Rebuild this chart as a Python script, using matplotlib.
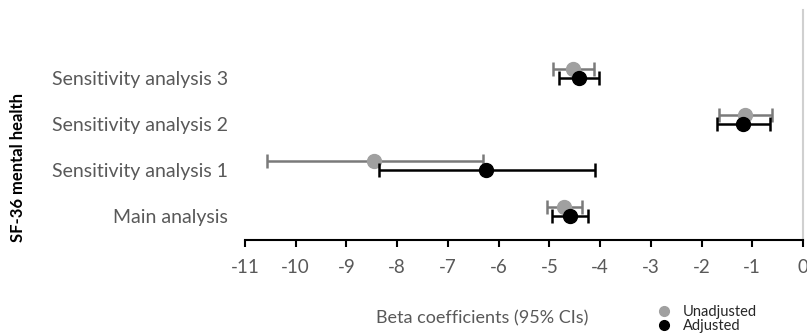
import matplotlib
matplotlib.use("Agg")
import matplotlib.pyplot as plt
import numpy as np
from matplotlib.lines import Line2D

categories = ["Main analysis", "Sensitivity analysis 1", "Sensitivity analysis 2", "Sensitivity analysis 3"]
unadj_beta = [-4.71, -8.46, -1.14, -4.54]
unadj_lo = [-5.05, -10.57, -1.66, -4.93]
unadj_hi = [-4.36, -6.30, -0.61, -4.12]
adj_beta = [-4.60, -6.25, -1.18, -4.42]
adj_lo = [-4.95, -8.35, -1.70, -4.81]
adj_hi = [-4.24, -4.10, -0.65, -4.02]
xticks = list(range(-11, 1))

plt.rcParams['font.family'] = ['Lato', 'DejaVu Sans']

fig = plt.figure(figsize=(8.07, 3.36), dpi=100)
ax = fig.add_axes([245/807, 96/336, (803-245)/807, 230/336])

y = np.arange(len(categories))
off = 0.2
ub = np.array(unadj_beta); ab = np.array(adj_beta)
ax.errorbar(ub, y + off, xerr=[ub - np.array(unadj_lo), np.array(unadj_hi) - ub],
            fmt='o', color='#a0a0a0', ecolor='#7a7a7a', elinewidth=1.8, capsize=5,
            capthick=1.8, markersize=10, zorder=3, label='Unadjusted')
ax.errorbar(ab, y, xerr=[ab - np.array(adj_lo), np.array(adj_hi) - ab],
            fmt='o', color='black', ecolor='black', elinewidth=1.8, capsize=5,
            capthick=1.8, markersize=10, zorder=4, label='Adjusted')

ax.set_xlim(-11, 0)
ax.set_ylim(-0.52, 4.48)
ax.set_xticks(xticks)
ax.set_xticklabels([str(t) for t in xticks], color='#595959', fontsize=13.5)
ax.set_yticks(y)
ax.set_yticklabels(categories, color='#595959', fontsize=14)
ax.tick_params(axis='y', length=0, pad=12)
ax.tick_params(axis='x', length=5, width=1.5, color='black', pad=9, direction='out')
for s in ['left', 'top']:
    ax.spines[s].set_visible(False)
ax.spines['bottom'].set_linewidth(1.5)
ax.spines['bottom'].set_color('black')
ax.spines['right'].set_color('#d0d0d0')
ax.spines['right'].set_linewidth(1.5)

fig.text(482/807, 1 - 318/336, "Beta coefficients (95% CIs)", ha='center', va='center',
         color='#595959', fontsize=13)
fig.text(18/807, 1 - 168/336, "SF-36 mental health", rotation=90, ha='center', va='center',
         fontsize=12, fontweight='bold', color='black')

h = [Line2D([], [], marker='o', linestyle='none', color='#a0a0a0', markersize=7),
     Line2D([], [], marker='o', linestyle='none', color='black', markersize=7)]
leg = fig.legend(h, ['Unadjusted', 'Adjusted'], loc='center left',
                 bbox_to_anchor=(648/807, 1 - 319/336), frameon=False, fontsize=10.5,
                 handletextpad=0.7, labelspacing=-0.05, handlelength=1.2, borderpad=0)
for t in leg.get_texts():
    t.set_color('#262626')

fig.savefig("out.png", dpi=100)
